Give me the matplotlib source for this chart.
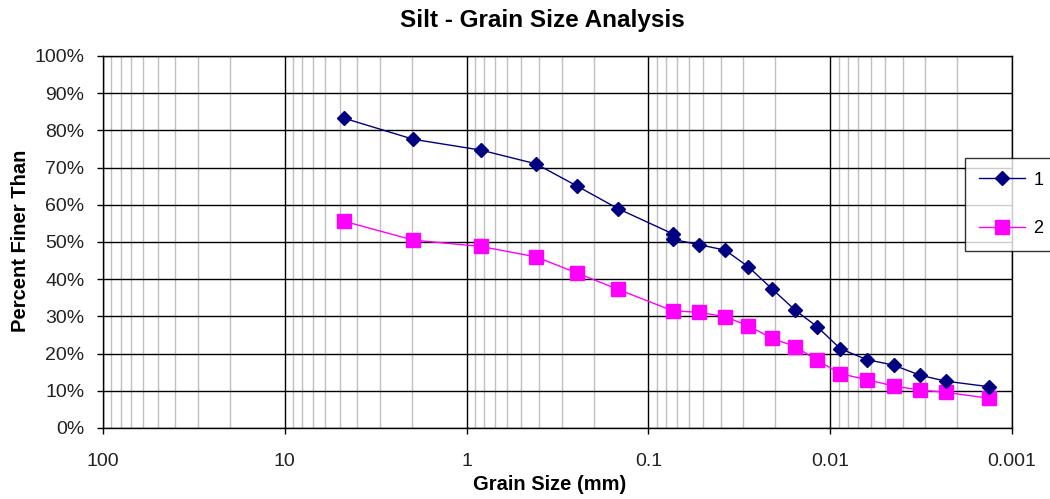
import numpy as np
import matplotlib.pyplot as plt
from matplotlib.ticker import FixedLocator, FuncFormatter, NullFormatter

plt.rcParams['font.family'] = ['Liberation Sans', 'DejaVu Sans']

# grain size (mm) and percent finer for the two samples
size_1 = [4.74, 1.96, 0.833, 0.415, 0.248, 0.1475, 0.0735, 0.0735, 0.0527, 0.0378,
          0.0283, 0.0209, 0.0156, 0.01178, 0.00879, 0.0063, 0.00448, 0.00321, 0.00232, 0.00134]
finer_1 = [83.3, 77.6, 74.7, 71.0, 65.1, 59.0, 52.2, 50.7, 49.3, 47.8,
           43.4, 37.4, 31.7, 27.2, 21.3, 18.4, 16.9, 14.2, 12.6, 11.1]

size_2 = [4.74, 1.96, 0.833, 0.415, 0.248, 0.1475, 0.0735, 0.0527, 0.0378,
          0.0283, 0.0209, 0.0156, 0.01178, 0.00879, 0.0063, 0.00448, 0.00321, 0.00232, 0.00134]
finer_2 = [55.6, 50.5, 48.8, 46.0, 41.7, 37.3, 31.5, 31.1, 29.9,
           27.5, 24.1, 21.9, 18.2, 14.6, 13.0, 11.3, 10.2, 9.6, 8.0]

x_ticks = [100, 10, 1, 0.1, 0.01, 0.001]
x_labels = ['100', '10', '1', '0.1', '0.01', '0.001']
y_ticks = list(range(0, 101, 10))

fig = plt.figure(figsize=(10.5, 4.99), dpi=100)
ax = fig.add_axes([103/1050, 1 - 428/499, 909/1050, 372/499])

ax.set_xscale('log')
ax.set_xlim(100, 0.001)
ax.set_ylim(0, 100)

# minor vertical grid (2..9 in each decade)
minors = [m * 10.0**e for e in range(-3, 2) for m in range(2, 10)]
ax.xaxis.set_minor_locator(FixedLocator(minors))
ax.xaxis.set_minor_formatter(NullFormatter())
ax.grid(True, which='minor', axis='x', color='#c0c0c0', lw=1.0, zorder=0)
ax.grid(True, which='major', axis='both', color='black', lw=1.0, zorder=0.5)

ax.xaxis.set_major_locator(FixedLocator(x_ticks))
ax.set_xticklabels(x_labels)
ax.set_yticks(y_ticks)
ax.yaxis.set_major_formatter(FuncFormatter(lambda v, p: '%d%%' % v))
ax.tick_params(axis='both', which='major', direction='out', length=4.3, width=1,
               labelsize=14, colors='black', labelcolor='#222222')
ax.tick_params(axis='x', which='minor', length=0)
ax.tick_params(axis='x', pad=14)
ax.tick_params(axis='y', pad=9)
for s in ax.spines.values():
    s.set_color('black')
    s.set_linewidth(1.0)

ax.plot(size_1, finer_1, color='#000080', lw=1.0, marker='D', ms=7,
        mfc='#000080', mec='#000080', label='1', zorder=3)
ax.plot(size_2, finer_2, color='#ff00ff', lw=1.0, marker='s', ms=9.5,
        mfc='#ff00ff', mec='#ff00ff', label='2', zorder=2.5)

leg = fig.legend(loc='upper left', bbox_to_anchor=(965/1050, 1 - 158/499),
                 frameon=True, fancybox=False, edgecolor='black', fontsize=13,
                 handlelength=2.6, labelspacing=1.75, borderpad=0.75,
                 handletextpad=0.45, borderaxespad=0)
leg.get_frame().set_linewidth(1.0)

fig.text(542/1050, 1 - 20/499, 'Silt - Grain Size Analysis', ha='center', va='center',
         fontsize=17.5, fontweight='bold')
fig.text(550/1050, 1 - 485/499, 'Grain Size (mm)', ha='center', va='center',
         fontsize=14.5, fontweight='bold')
fig.text(20/1050, 1 - 241/499, 'Percent Finer Than', ha='center', va='center',
         rotation=90, fontsize=14.5, fontweight='bold')

fig.savefig('out.png', dpi=100)
